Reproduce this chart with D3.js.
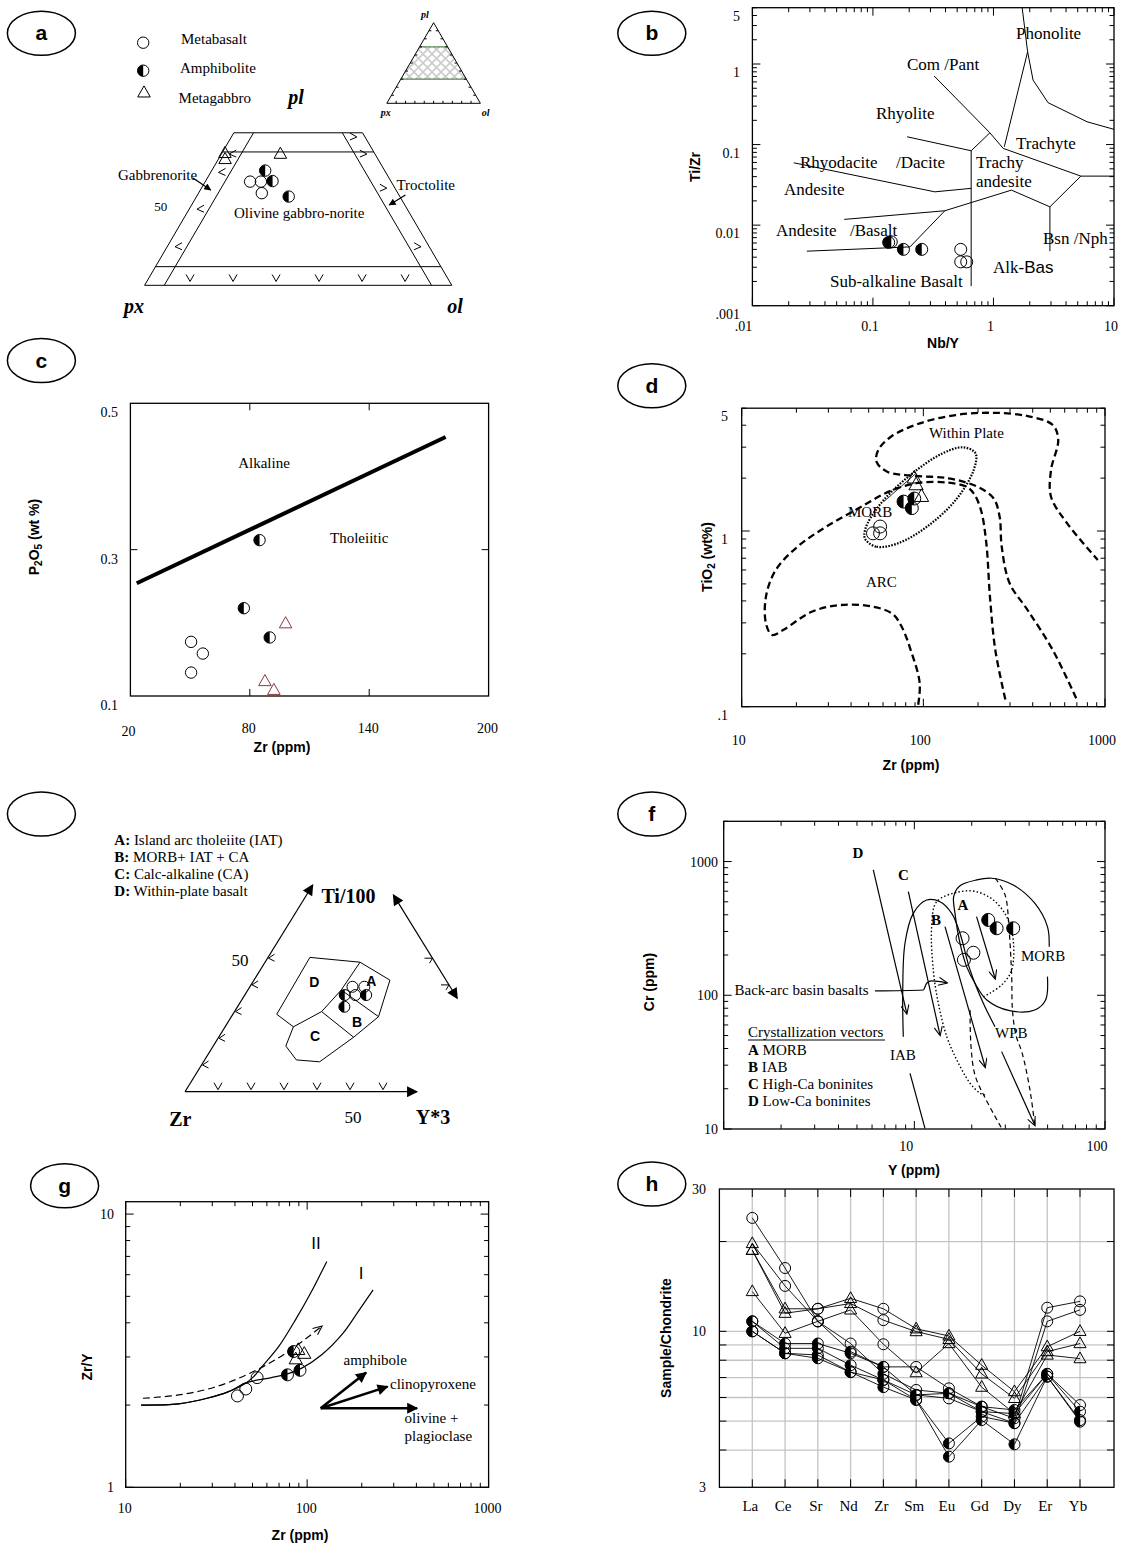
<!DOCTYPE html>
<html>
<head>
<meta charset="utf-8">
<script src="https://cdn.jsdelivr.net/npm/d3@7"></script>
<style>
  body { margin: 0; background: #fff; }
</style>
</head>
<body>
<svg id="canvas" width="1124" height="1544"></svg>
<script>
const SERIF = "'Liberation Serif','Times New Roman',serif";
const SANS = "'Liberation Sans',Arial,sans-serif";

// ---------------- data ----------------
// a: pl / px / ol in percent
const aMetabasalt = [[39.5, 45.9, 14.6], [39.5, 42.4, 18.1], [35.1, 44.3, 20.6]];
const aAmphibolite = [[43.7, 38.9, 17.4], [39.7, 38.5, 21.8], [33.8, 36.2, 30.0]];
const aMetagabbro = [[50.3, 48.7, 1.0], [48.0, 49.8, 2.2], [50.0, 30.8, 19.2]];

// b: Nb/Y vs Ti/Zr
const bAmphibolite = [[0.135, 0.0061], [0.142, 0.0062], [0.179, 0.0050], [0.254, 0.0050]];
const bMetabasalt = [[0.535, 0.0050], [0.535, 0.0035], [0.600, 0.0035]];
const bBoundaries = [
  [[1.73, 5], [1.92, 1.42], [1.23, 0.0939]],
  [[1.92, 1.42], [2.13, 0.632], [2.84, 0.331], [5.97, 0.192], [10, 0.1545]],
  [[0.322, 0.71], [0.934, 0.14], [1.205, 0.0897], [5.31, 0.0406], [10, 0.0406]],
  [[0.192, 0.125], [0.653, 0.0838], [0.934, 0.14]],
  [[0.653, 0.0838], [0.653, 0.00175]],
  [[0.02205, 0.0594], [0.326, 0.0259], [0.653, 0.0286]],
  [[0.0578, 0.01178], [0.395, 0.01508], [1.41, 0.0272], [2.94, 0.01687], [5.31, 0.0406]],
  [[2.94, 0.01687], [2.94, 0.00475]],
  [[0.395, 0.01508], [0.203, 0.00537], [0.0283, 0.00475]]
];
const bXTicks = [[0.01, ".01"], [0.1, "0.1"], [1, "1"], [10, "10"]];
const bYTicks = [[5, "5"], [1, "1"], [0.1, "0.1"], [0.01, "0.01"], [0.001, ".001"]];

// c: Zr vs P2O5
const cAmphibolite = [[84.9, 0.313], [77.0, 0.220], [90.0, 0.180]];
const cMetabasalt = [[50.5, 0.174], [56.4, 0.158], [50.5, 0.132]];
const cMetagabbro = [[98.0, 0.199], [87.6, 0.120], [92.1, 0.108]];
const cDivide = [[23.2, 0.254], [178.4, 0.454]];
const cXTicks = [20, 80, 140, 200];
const cYTicks = [0.5, 0.3, 0.1];

// d: Zr vs TiO2
const dAmphibolite = [[77.8, 1.47], [89.1, 1.53], [86.4, 1.35]];
const dMetabasalt = [[52.8, 0.97], [57.8, 1.06], [57.8, 0.97]];
const dMetagabbro = [[89.1, 2.0], [91.2, 1.83], [97.7, 1.57]];
const dWithinPlate = [[694, 0.1116], [516, 0.21], [375, 0.355], [298.5, 0.504], [270, 0.814], [263, 1.206], [243.4, 1.535], [198.2, 1.787], [137.6, 1.995], [87.2, 2.064], [63.3, 2.175], [55.2, 2.48], [56.5, 2.89], [66.3, 3.44], [95.5, 4.10], [150.7, 4.57], [237.8, 4.71], [375, 4.51], [516, 4.01], [552.7, 3.30], [504.5, 2.225], [504.5, 1.567], [619, 1.106], [912.5, 0.684]];
const dArc = [[282.7, 0.110], [249, 0.21], [232.6, 0.423], [222.2, 0.851], [207.5, 1.317], [189.3, 1.639], [172.8, 1.787], [137.6, 1.883], [95.5, 1.883], [66.3, 1.696], [44, 1.346], [29.2, 1.058], [20.3, 0.814], [15.4, 0.6], [13.6, 0.423], [13.6, 0.298], [14.7, 0.256], [16.9, 0.273], [24.3, 0.347], [35, 0.379], [52.8, 0.371], [67.8, 0.337], [76, 0.285], [85.2, 0.21], [95.5, 0.136], [93.3, 0.1]];
const dMorb = [[48.2, 0.889], [55.2, 0.814], [72.6, 0.851], [104.6, 1.058], [150.7, 1.501], [189.3, 2.225], [193.7, 2.768], [165.1, 2.995], [125.6, 2.744], [87.2, 2.13], [60.5, 1.501], [49.3, 1.106], [47.3, 0.949]];
const dTie = [[60.5, 1.468], [91.2, 2.13]];
const dXTicks = [[10, "10"], [100, "100"], [1000, "1000"]];
const dYTicks = [[5, "5"], [1, "1"], [0.1, ".1"]];

// e: Ti/100 - Zr - Y*3 (fractions of Ti and Y*3; Zr is the rest)
const eMetabasalt = [[0.393, 0.311], [0.393, 0.347], [0.362, 0.335]];
const eAmphibolite = [[0.362, 0.303], [0.362, 0.368], [0.318, 0.324]];
const eOutline = [[0.503, 0.127], [0.485, 0.288], [0.418, 0.412], [0.281, 0.446], [0.204, 0.409], [0.112, 0.352], [0.119, 0.278], [0.171, 0.220], [0.243, 0.207], [0.290, 0.133]];
const eInner = [
  [[0.485, 0.288], [0.381, 0.283], [0.300, 0.264]],
  [[0.243, 0.207], [0.300, 0.264], [0.204, 0.409]],
  [[0.381, 0.283], [0.281, 0.446]]
];
const eLegend = [["A:", " Island arc tholeiite (IAT)"], ["B:", " MORB+ IAT + CA"], ["C:", " Calc-alkaline (CA)"], ["D:", " Within-plate basalt"]];

// f: Y vs Cr
const fAmphibolite = [[24.4, 366], [27.0, 317], [33.0, 317]];
const fMetabasalt = [[17.9, 267], [20.4, 208], [18.2, 184]];
const fIabLow = [[11.37, 10.1], [9.49, 26.1]];
const fIabUp = [[8.75, 49], [8.69, 103.5], [8.93, 245], [9.87, 410], [11.6, 516], [13.63, 501], [15.7, 410], [17.35, 291], [19.6, 154.6], [23.0, 87.2], [26.5, 58.2]];
const fMorb = [[49.9, 137.8], [48.8, 92.2], [42.8, 77.6], [31.6, 76.7], [24.0, 92.2], [20.8, 123], [18.8, 163.7], [17.35, 245], [16.34, 410], [16.08, 546], [17.29, 657], [21.23, 729], [25.45, 750], [33.0, 668], [42.8, 488], [49.9, 326], [50.97, 231]];
const fBab = [[23.5, 17.96], [22.1, 18.5], [19.6, 22.0], [16.7, 32.8], [14.8, 49.0], [13.36, 87.2], [12.57, 154.6], [12.33, 326], [13.1, 501], [17.35, 595], [21.2, 595], [25.95, 516], [30.5, 387], [33.0, 259], [32.4, 154.6], [29.3, 123], [24.9, 103.5], [23.0, 97.6]];
const fDash1 = [[26.6, 750], [29.9, 563], [31.4, 308], [32.4, 137.8], [32.7, 77.6], [34.1, 50.5], [36.8, 36.8], [40.4, 19.6], [42.8, 10.7]];
const fDash2 = [[19.6, 77.6], [19.8, 42.5], [20.8, 25.3], [23.5, 17.1], [28.5, 10.3]];
const fVectors = [
  [[6.09, 865], [9.12, 73.4]],
  [[9.30, 595.5], [13.63, 50.5]],
  [[14.48, 326], [23.5, 29.2]],
  [[21.2, 387], [26.5, 134]],
  [[28.7, 37.9], [42.8, 10.7]]
];
const fBackArc = [[6.22, 107.7], [11.14, 109.5], [11.6, 123], [12.33, 128], [14.78, 124]];
const fXTicks = [[10, "10"], [100, "100"]];
const fYTicks = [[1000, "1000"], [100, "100"], [10, "10"]];
const fLegend = [["A", " MORB"], ["B", " IAB"], ["C", " High-Ca boninites"], ["D", " Low-Ca boninites"]];

// g: Zr vs Zr/Y
const gMetabasalt = [[41.3, 2.16], [45.9, 2.29], [53.0, 2.52]];
const gAmphibolite = [[77.9, 2.58], [91.3, 2.68], [84.2, 3.14]];
const gMetagabbro = [[89.3, 3.18], [96.4, 3.08], [86.5, 2.94]];
const gCurveI = [[12.16, 2.0], [19.56, 2.02], [28.09, 2.118], [36.9, 2.24], [46.3, 2.416], [63.5, 2.52], [77.9, 2.60], [93.4, 2.73], [119.8, 3.05], [157.4, 3.66], [188.6, 4.34], [231, 5.28]];
const gCurveII = [[12.16, 2.0], [19.56, 2.02], [28.09, 2.118], [36.9, 2.24], [46.3, 2.416], [50.7, 2.54], [55.5, 2.73], [69.6, 3.27], [87.3, 4.16], [104.6, 5.14], [128.3, 6.71]];
const gTrend = [[12.44, 2.118], [19.56, 2.178], [30.8, 2.324], [48.4, 2.616], [76.2, 3.095], [119.8, 3.876]];
const gVectors = [[[118.8, 1.947], [211.3, 2.63]], [[118.8, 1.947], [277.4, 2.336]], [[118.8, 1.947], [403.6, 1.947]]];
const gXTicks = [[10, "10"], [100, "100"], [1000, "1000"]];
const gYTicks = [[10, "10"], [1, "1"]];

// h: chondrite normalised REE
const hElements = ["La", "Ce", "Sr", "Nd", "Zr", "Sm", "Eu", "Gd", "Dy", "Er", "Yb"];
const hValues = [
  [24.0, 16.3, 10.8, 8.55, 7.6, 7.6, 6.44, 5.59, 5.11, 12.0, 12.6],
  [19.7, 14.2, 10.8, 9.1, 7.2, 6.36, 6.2, 5.38, 4.92, 10.8, 11.8],
  [18.7, 11.9, 11.9, 12.9, 11.9, 10.2, 9.65, 7.7, 6.28, 8.88, 10.0],
  [18.7, 11.5, 11.9, 12.4, 10.9, 9.98, 9.4, 7.2, 5.96, 8.55, 9.1],
  [13.6, 9.85, 10.8, 11.8, 9.05, 7.27, 9.1, 6.5, 5.3, 8.33, 8.1],
  [10.8, 9.1, 9.1, 8.44, 7.6, 6.12, 6.2, 5.59, 5.45, 7.2, 5.66],
  [10.8, 8.77, 8.77, 7.7, 6.87, 6.12, 5.96, 5.38, 5.3, 7.2, 5.38],
  [10.0, 8.44, 8.33, 7.3, 6.87, 5.89, 4.21, 5.18, 4.92, 7.05, 5.04],
  [10.0, 8.44, 8.12, 7.3, 6.5, 5.89, 3.80, 5.04, 4.18, 7.05, 4.98]
];
const hSymbols = ["cccacccaccc", "tcccaccaccc", "ttctctttttt", "ttctctttttt", "ttctctttttt", "aaaaaaaaaac", "aaaaaacaaaa", "aaaaaaaaaaa", "aaaaaaaaaaa"];
const hGrid = [4, 5, 6, 7, 8, 9, 10, 20];
const hYTicks = [[30, "30"], [10, "10"], [3, "3"]];

// ---------------- helpers ----------------
const svg = d3.select("#canvas");
svg.append("rect").attr("width", 1124).attr("height", 1544).attr("fill", "#fff");
const defs = svg.append("defs");

function arrowDef(id, w, h, filled) {
  defs.append("marker").attr("id", id).attr("viewBox", "0 0 10 10")
    .attr("refX", 9).attr("refY", 5).attr("markerUnits", "userSpaceOnUse")
    .attr("markerWidth", w).attr("markerHeight", h).attr("orient", "auto-start-reverse")
    .append("path").attr("d", filled ? "M0,0L10,5L0,10Z" : "M0,0.5L10,5L0,9.5")
    .attr("fill", filled ? "#000" : "none").attr("stroke", "#000").attr("stroke-width", filled ? 0 : 1.2);
}
arrowDef("arrowS", 9, 7, true);
arrowDef("arrowL", 15, 11, true);
arrowDef("arrowO", 11, 9, false);

const hatch = defs.append("pattern").attr("id", "hatch").attr("patternUnits", "userSpaceOnUse").attr("width", 9).attr("height", 9);
hatch.append("path").attr("d", "M0,0L9,9M9,0L0,9").attr("stroke", "#cccccc").attr("stroke-width", 1.6);

function txt(g, x, y, s, o = {}) {
  return g.append("text").attr("x", x).attr("y", y)
    .attr("font-size", o.size || 15)
    .attr("font-family", o.sans ? SANS : SERIF)
    .attr("font-weight", o.bold ? "bold" : null)
    .attr("font-style", o.italic ? "italic" : null)
    .attr("text-anchor", o.anchor || "start")
    .text(s);
}
function vtxt(g, x, y, s) {
  return g.append("text").attr("transform", `translate(${x},${y}) rotate(-90)`)
    .attr("text-anchor", "middle").attr("dy", "0.35em")
    .attr("font-family", SANS).attr("font-weight", "bold").attr("font-size", 14).text(s);
}
function seg(g, x1, y1, x2, y2, w = 1) {
  return g.append("line").attr("x1", x1).attr("y1", y1).attr("x2", x2).attr("y2", y2)
    .attr("stroke", "#000").attr("stroke-width", w);
}
function sym(g, type, x, y, r, color = "#000") {
  if (type === "t") {
    g.append("path").attr("d", `M${x},${y - r * 1.2}L${x + r * 1.1},${y + r * 0.75}L${x - r * 1.1},${y + r * 0.75}Z`)
      .attr("fill", "none").attr("stroke", color).attr("stroke-width", 1);
    return;
  }
  g.append("circle").attr("cx", x).attr("cy", y).attr("r", r)
    .attr("fill", "none").attr("stroke", color).attr("stroke-width", 1);
  if (type === "a") {
    g.append("path").attr("d", `M${x},${y - r}A${r},${r} 0 0 0 ${x},${y + r}Z`).attr("fill", "#000");
  }
}
function badge(cx, cy, letter) {
  svg.append("ellipse").attr("cx", cx).attr("cy", cy).attr("rx", 34).attr("ry", 22)
    .attr("fill", "none").attr("stroke", "#000").attr("stroke-width", 1.5);
  if (letter) txt(svg, cx, cy + 7, letter, { sans: true, bold: true, size: 21, anchor: "middle" });
}
function logTicks(lo, hi) {
  const out = [];
  for (let d = Math.floor(Math.log10(lo)); d <= Math.ceil(Math.log10(hi)); d++) {
    for (let k = 1; k < 10; k++) {
      const v = k * Math.pow(10, d);
      if (v >= lo * 0.999 && v <= hi * 1.001) out.push({ v, major: k === 1 });
    }
  }
  return out;
}
function frame(g, x, y, xt, yt) {
  const [xa, xb] = x.range(), [ya, yb] = y.range();
  g.append("rect").attr("x", xa).attr("y", yb).attr("width", xb - xa).attr("height", ya - yb)
    .attr("fill", "none").attr("stroke", "#000").attr("stroke-width", 1.3);
  xt.forEach(t => {
    const p = x(t.v), L = t.major ? 8 : 4.5;
    seg(g, p, ya, p, ya - L); seg(g, p, yb, p, yb + L);
  });
  yt.forEach(t => {
    const p = y(t.v), L = t.major ? 8 : 4.5;
    seg(g, xa, p, xa + L, p); seg(g, xb, p, xb - L, p);
  });
}
function path(g, gen, pts, w, dash) {
  return g.append("path").attr("d", gen(pts)).attr("fill", "none").attr("stroke", "#000")
    .attr("stroke-width", w).attr("stroke-dasharray", dash || null);
}

// ---------------- panel a : pl-px-ol ----------------
badge(41.4, 33.3, "a");
const aG = svg.append("g");
const aX = d3.scaleLinear([0, 1], [144.6, 451.8]);
const aY = d3.scaleLinear([0, 1], [285.3, 22.8]);
const aP = (pl, ol) => [aX(ol + pl / 2), aY(pl)];
const aFrame = [
  [[0, 0], [0.581, 0]], [[0, 1], [0.581, 0.419]],
  [[0, 0.064], [0.581, 0.064]], [[0, 0.934], [0.581, 0.353]],
  [[0, 0], [0, 1]], [[0.071, 0], [0.071, 0.929]],
  [[0.508, 0], [0.508, 0.492]], [[0.581, 0], [0.581, 0.419]]
];
aFrame.forEach(s => { const p = aP(...s[0]), q = aP(...s[1]); seg(aG, p[0], p[1], q[0], q[1], 1); });
[0.135, 0.275, 0.415, 0.555, 0.695, 0.835].forEach(ol => {
  const [x, y] = aP(0.026, ol);
  aG.append("path").attr("d", `M${x - 4},${y - 4}L${x},${y + 3}L${x + 4},${y - 4}`).attr("fill", "none").attr("stroke", "#000");
});
[0.50, 0.43, 0.29, 0.147].forEach(pl => {
  const [x, y] = aP(pl, 0.032);
  aG.append("path").attr("d", `M${x + 5},${y - 4}L${x - 2},${y}L${x + 5},${y + 3}`).attr("fill", "none").attr("stroke", "#000");
});
[0.565, 0.50, 0.37, 0.147].forEach(pl => {
  const [x, y] = aP(pl, 0.967 - pl);
  aG.append("path").attr("d", `M${x - 5},${y - 4}L${x + 2},${y}L${x - 5},${y + 3}`).attr("fill", "none").attr("stroke", "#000");
});
// inset triangle
const iX = d3.scaleLinear([0, 1], [386.8, 480.4]);
const iY = d3.scaleLinear([0, 1], [103.3, 22.7]);
const iP = (pl, ol) => [iX(ol + pl / 2), iY(pl)];
const band = [iP(0.3, 0), iP(0.7, 0), iP(0.7, 0.3), iP(0.3, 0.7)];
aG.append("path").attr("d", "M" + band.join("L") + "Z").attr("fill", "url(#hatch)");
aG.append("path").attr("d", "M" + [iP(0, 0), iP(1, 0), iP(0, 1)].join("L") + "Z").attr("fill", "none").attr("stroke", "#000");
[[0.3, 0.7], [0.7, 0.3]].forEach(([pl, w]) => {
  const p = iP(pl, 0), q = iP(pl, w);
  seg(aG, p[0], p[1], q[0], q[1], 1).attr("stroke", "#2e6b2e");
});
d3.range(1, 10).forEach(k => {
  const t = k / 10;
  let p = iP(0, t); seg(aG, p[0], p[1], p[0], p[1] - 2.5, 1);
  p = iP(t, 0); seg(aG, p[0], p[1], p[0] + 2.5, p[1], 1);
  p = iP(t, 1 - t); seg(aG, p[0], p[1], p[0] - 2.5, p[1], 1);
});
txt(aG, 425, 18, "pl", { size: 10, bold: true, italic: true, anchor: "middle" });
txt(aG, 385.7, 116, "px", { size: 10, bold: true, italic: true, anchor: "middle" });
txt(aG, 485.7, 116, "ol", { size: 10, bold: true, italic: true, anchor: "middle" });
// legend
sym(aG, "c", 143.2, 42.7, 5.7); txt(aG, 181, 44, "Metabasalt");
sym(aG, "a", 143.2, 70.7, 5.7); txt(aG, 180, 73, "Amphibolite");
sym(aG, "t", 144, 92.7, 5.7); txt(aG, 178.6, 103, "Metagabbro");
txt(aG, 296, 104, "pl", { size: 20, bold: true, italic: true, anchor: "middle" });
txt(aG, 134, 313, "px", { size: 20, bold: true, italic: true, anchor: "middle" });
txt(aG, 455, 313, "ol", { size: 20, bold: true, italic: true, anchor: "middle" });
txt(aG, 160.7, 211, "50", { size: 13, anchor: "middle" });
txt(aG, 118, 180, "Gabbrenorite");
seg(aG, 193, 178, 210.7, 190, 1.3).attr("marker-end", "url(#arrowS)");
txt(aG, 396.4, 190, "Troctolite");
seg(aG, 405.4, 195, 389.3, 205, 1.3).attr("marker-end", "url(#arrowS)");
txt(aG, 234, 218, "Olivine gabbro-norite");
aMetabasalt.forEach(d => { const [x, y] = aP(d[0] / 100, d[2] / 100); sym(aG, "c", x, y, 5.7); });
aAmphibolite.forEach(d => { const [x, y] = aP(d[0] / 100, d[2] / 100); sym(aG, "a", x, y, 5.7); });
aMetagabbro.forEach(d => { const [x, y] = aP(d[0] / 100, d[2] / 100); sym(aG, "t", x, y, 5.7); });

// ---------------- panel b : Nb/Y vs Ti/Zr ----------------
badge(651.8, 33.3, "b");
const bG = svg.append("g");
const xB = d3.scaleLog([0.01, 10], [752.4, 1114]);
const yB = d3.scaleLog([0.001, 5], [305.7, 7.7]);
frame(bG, xB, yB, logTicks(0.01, 10), logTicks(0.001, 5));
const lineB = d3.line().x(d => xB(d[0])).y(d => yB(d[1]));
bBoundaries.forEach(l => path(bG, lineB, l, 1));
bXTicks.forEach(([v, s]) => txt(bG, xB(v) - (v === 0.01 ? 9 : 3), 331, s, { size: 14, anchor: "middle" }));
bYTicks.forEach(([v, s]) => txt(bG, 740, yB(v) + 13, s, { size: 14, anchor: "end" }));
vtxt(bG, 695, 167, "Ti/Zr");
txt(bG, 943, 348, "Nb/Y", { sans: true, bold: true, size: 14, anchor: "middle" });
[["Phonolite", 1016, 39], ["Com /Pant", 907, 70], ["Rhyolite", 876, 119], ["Trachyte", 1016, 149],
 ["Rhyodacite", 800, 168], ["/Dacite", 896, 168], ["Trachy", 976, 168], ["andesite", 976, 187],
 ["Andesite", 784, 195], ["Andesite", 776, 236], ["/Basalt", 850, 236], ["Bsn /Nph", 1043, 244],
 ["Sub-alkaline Basalt", 830, 287]].forEach(([s, x, y]) => txt(bG, x, y, s, { size: 17 }));
const alk = txt(bG, 993, 273, "", { size: 17 });
alk.append("tspan").text("Alk-");
alk.append("tspan").attr("font-family", SANS).text("Bas");
bAmphibolite.forEach(d => sym(bG, "a", xB(d[0]), yB(d[1]), 6));
bMetabasalt.forEach(d => sym(bG, "c", xB(d[0]), yB(d[1]), 6));

// ---------------- panel c : Zr vs P2O5 ----------------
badge(41.4, 360.5, "c");
const cG = svg.append("g");
const xC = d3.scaleLinear([20, 200], [130.4, 488.6]);
const yC = d3.scaleLinear([0.1, 0.5], [696, 403.3]);
cG.append("rect").attr("x", 130.4).attr("y", 403.3).attr("width", 358.2).attr("height", 292.7)
  .attr("fill", "none").attr("stroke", "#000").attr("stroke-width", 1.3);
[80, 140].forEach(v => { seg(cG, xC(v), 696, xC(v), 689); seg(cG, xC(v), 403.3, xC(v), 410.3); });
seg(cG, 130.4, yC(0.3), 137.4, yC(0.3)); seg(cG, 488.6, yC(0.3), 481.6, yC(0.3));
cXTicks.forEach(v => txt(cG, xC(v) - (v === 20 ? 2 : 1), v === 20 ? 736 : 733, String(v), { size: 14, anchor: "middle" }));
cYTicks.forEach(v => txt(cG, 118, yC(v) + 14, String(v), { size: 14, anchor: "end" }));
const cT = cG.append("text").attr("transform", "translate(34,537) rotate(-90)").attr("text-anchor", "middle")
  .attr("dy", "0.35em").attr("font-family", SANS).attr("font-weight", "bold").attr("font-size", 14);
cT.append("tspan").text("P");
cT.append("tspan").attr("font-size", 10).attr("dy", 3).text("2");
cT.append("tspan").attr("dy", -3).text("O");
cT.append("tspan").attr("font-size", 10).attr("dy", 3).text("5");
cT.append("tspan").attr("dy", -3).text(" (wt %)");
txt(cG, 282, 752, "Zr (ppm)", { sans: true, bold: true, size: 14, anchor: "middle" });
const lineC = d3.line().x(d => xC(d[0])).y(d => yC(d[1]));
path(cG, lineC, cDivide, 4);
txt(cG, 264, 468, "Alkaline", { anchor: "middle" });
txt(cG, 330, 543, "Tholeiitic");
cAmphibolite.forEach(d => sym(cG, "a", xC(d[0]), yC(d[1]), 5.7));
cMetabasalt.forEach(d => sym(cG, "c", xC(d[0]), yC(d[1]), 5.7));
cMetagabbro.forEach(d => sym(cG, "t", xC(d[0]), yC(d[1]), 5.7, "#8b3a3a"));

// ---------------- panel d : Zr vs TiO2 ----------------
badge(651.8, 385.8, "d");
const dG = svg.append("g");
const xD = d3.scaleLog([10, 1000], [741.7, 1105]);
const yD = d3.scaleLog([0.1, 5], [706.7, 408.2]);
frame(dG, xD, yD, logTicks(10, 1000), logTicks(0.1, 5));
const lineD = d3.line().x(d => xD(d[0])).y(d => yD(d[1])).curve(d3.curveCatmullRom.alpha(0.5));
path(dG, lineD, dWithinPlate, 2.3, "7,4");
path(dG, lineD, dArc, 2.3, "7,4");
path(dG, lineD.curve(d3.curveCatmullRomClosed.alpha(0.5)), dMorb, 2.2, "1.6,1.4");
path(dG, d3.line().x(d => xD(d[0])).y(d => yD(d[1])), dTie, 0.8);
dXTicks.forEach(([v, s]) => txt(dG, xD(v) - 3, 745, s, { size: 14, anchor: "middle" }));
dYTicks.forEach(([v, s]) => txt(dG, 728, yD(v) + 13, s, { size: 14, anchor: "end" }));
const dT = dG.append("text").attr("transform", "translate(707.5,557) rotate(-90)").attr("text-anchor", "middle")
  .attr("dy", "0.35em").attr("font-family", SANS).attr("font-weight", "bold").attr("font-size", 14);
dT.append("tspan").text("TiO");
dT.append("tspan").attr("font-size", 10).attr("dy", 3).text("2");
dT.append("tspan").attr("dy", -3).text(" (wt%)");
txt(dG, 911, 770, "Zr (ppm)", { sans: true, bold: true, size: 14, anchor: "middle" });
txt(dG, 929, 438, "Within Plate");
txt(dG, 848, 517, "MORB");
txt(dG, 866, 587, "ARC");
dMetagabbro.forEach(d => sym(dG, "t", xD(d[0]), yD(d[1]), 6.5));
dAmphibolite.forEach(d => sym(dG, "a", xD(d[0]), yD(d[1]), 6.5));
dMetabasalt.forEach(d => sym(dG, "c", xD(d[0]), yD(d[1]), 6.5));

// ---------------- panel e : Ti-Zr-Y ----------------
badge(41.4, 814, "");
const eG = svg.append("g");
const eX = d3.scaleLinear([0, 1], [185, 515]);
const eY = d3.scaleLinear([0, 1], [1091.7, 824.7]);
const eP = (ti, yv) => [eX(yv + ti / 2), eY(ti)];
eLegend.forEach((d, i) => {
  const t = txt(eG, 114.3, [845, 862, 879, 896][i], "");
  t.append("tspan").attr("font-weight", "bold").text(d[0]);
  t.append("tspan").text(d[1]);
});
let p0 = eP(0, 0), p1 = eP(0.774, 0);
seg(eG, p0[0], p0[1], p1[0], p1[1], 1.2).attr("marker-end", "url(#arrowL)");
p1 = eP(0, 0.703);
seg(eG, p0[0], p0[1], p1[0], p1[1], 1.2).attr("marker-end", "url(#arrowL)");
p0 = eP(0.737, 0.263); p1 = eP(0.35, 0.65);
seg(eG, p0[0], p0[1], p1[0], p1[1], 1.2).attr("marker-end", "url(#arrowL)").attr("marker-start", "url(#arrowL)");
[0.1, 0.2, 0.3, 0.4, 0.5].forEach(t => {
  const [x, y] = eP(t, 0);
  eG.append("path").attr("d", `M${x + 7},${y - 4}L${x + 1},${y}L${x + 7},${y + 3}`).attr("fill", "none").attr("stroke", "#000");
});
[0.1, 0.2, 0.3, 0.4, 0.5, 0.6].forEach(t => {
  const [x, y] = eP(0, t);
  eG.append("path").attr("d", `M${x - 4},${y - 9}L${x},${y - 2}L${x + 4},${y - 9}`).attr("fill", "none").attr("stroke", "#000");
});
[0.5, 0.4].forEach(t => {
  const [x, y] = eP(t, 1 - t);
  eG.append("path").attr("d", `M${x - 8},${y}L${x},${y}L${x - 3},${y + 5}`).attr("fill", "none").attr("stroke", "#000");
});
const lineE = d3.line().x(d => eP(d[0], d[1])[0]).y(d => eP(d[0], d[1])[1]);
eG.append("path").attr("d", lineE(eOutline) + "Z").attr("fill", "none").attr("stroke", "#000").attr("stroke-width", 1);
eInner.forEach(l => path(eG, lineE, l, 1));
[["D", 314.3, 987], ["A", 371.4, 986], ["B", 357.1, 1027], ["C", 315, 1041]].forEach(([s, x, y]) =>
  txt(eG, x, y, s, { sans: true, bold: true, size: 14, anchor: "middle" }));
txt(eG, 321.4, 903, "Ti/100", { bold: true, size: 20 });
txt(eG, 180.4, 1126, "Zr", { bold: true, size: 20, anchor: "middle" });
txt(eG, 433, 1124, "Y*3", { bold: true, size: 20, anchor: "middle" });
txt(eG, 353, 1123, "50", { size: 17, anchor: "middle" });
txt(eG, 240, 966, "50", { size: 17, anchor: "middle" });
eMetabasalt.forEach(d => { const [x, y] = eP(d[0], d[1]); sym(eG, "c", x, y, 5.5); });
eAmphibolite.forEach(d => { const [x, y] = eP(d[0], d[1]); sym(eG, "a", x, y, 5.5); });

// ---------------- panel f : Y vs Cr ----------------
badge(651.8, 814, "f");
const fG = svg.append("g");
const xF = d3.scaleLog([1, 100], [723.7, 1105]);
const yF = d3.scaleLog([10, 2000], [1129, 821.3]);
frame(fG, xF, yF, logTicks(1, 100), logTicks(10, 2000));
const lineF = d3.line().x(d => xF(d[0])).y(d => yF(d[1])).curve(d3.curveCatmullRom.alpha(0.5));
const straightF = d3.line().x(d => xF(d[0])).y(d => yF(d[1]));
path(fG, straightF, fIabLow, 1.2);
path(fG, lineF, fIabUp, 1.2);
path(fG, lineF, fMorb, 1.2);
path(fG, lineF, fBab, 1.4, "1.5,2.2");
path(fG, lineF, fDash1, 1.2, "5,3.5");
path(fG, lineF, fDash2, 1.2, "5,3.5");
fVectors.forEach(v => path(fG, straightF, v, 1.2).attr("marker-end", "url(#arrowO)"));
path(fG, lineF.curve(d3.curveMonotoneX), fBackArc, 1.2).attr("marker-end", "url(#arrowO)");
fXTicks.forEach(([v, s]) => txt(fG, xF(v) - 8, 1151, s, { size: 14, anchor: "middle" }));
fYTicks.forEach(([v, s]) => txt(fG, 718, yF(v) + 5, s, { size: 14, anchor: "end" }));
vtxt(fG, 649, 982, "Cr (ppm)");
txt(fG, 914, 1175, "Y (ppm)", { sans: true, bold: true, size: 14, anchor: "middle" });
[["D", 858, 858], ["C", 903.5, 880], ["A", 963, 910], ["B", 936, 925]].forEach(([s, x, y]) =>
  txt(fG, x, y, s, { bold: true, anchor: "middle" }));
txt(fG, 1021, 961, "MORB");
txt(fG, 995, 1038, "WPB");
txt(fG, 890, 1060, "IAB");
txt(fG, 734.5, 995, "Back-arc basin basalts");
txt(fG, 748, 1037, "Crystallization vectors");
seg(fG, 748, 1040, 885, 1040, 1);
fLegend.forEach((d, i) => {
  const t = txt(fG, 748, 1055 + i * 17, "");
  t.append("tspan").attr("font-weight", "bold").text(d[0]);
  t.append("tspan").text(d[1]);
});
fMetabasalt.forEach(d => sym(fG, "c", xF(d[0]), yF(d[1]), 6.5));
fAmphibolite.forEach(d => sym(fG, "a", xF(d[0]), yF(d[1]), 6.5));

// ---------------- panel g : Zr vs Zr/Y ----------------
badge(64.6, 1185.8, "g");
const gG = svg.append("g");
const xG = d3.scaleLog([10, 1000], [125.7, 488.6]);
const yG = d3.scaleLog([1, 11.1], [1487.3, 1201.7]);
frame(gG, xG, yG, logTicks(10, 1000), logTicks(1, 11.1));
const lineG = d3.line().x(d => xG(d[0])).y(d => yG(d[1])).curve(d3.curveCatmullRom.alpha(0.5));
path(gG, lineG, gCurveI, 1.2);
path(gG, lineG, gCurveII, 1.2);
path(gG, lineG, gTrend, 1.2, "7,4").attr("marker-end", "url(#arrowO)");
const straightG = d3.line().x(d => xG(d[0])).y(d => yG(d[1]));
gVectors.forEach(v => path(gG, straightG, v, 2.6).attr("marker-end", "url(#arrowL)"));
gXTicks.forEach(([v, s]) => txt(gG, xG(v) - 1, 1513, s, { size: 14, anchor: "middle" }));
gYTicks.forEach(([v, s]) => txt(gG, 114, yG(v) + 5, s, { size: 14, anchor: "end" }));
vtxt(gG, 87.5, 1367, "Zr/Y");
txt(gG, 300, 1540, "Zr (ppm)", { sans: true, bold: true, size: 14, anchor: "middle" });
txt(gG, 316, 1249, "II", { sans: true, size: 17, anchor: "middle" });
txt(gG, 361, 1279, "I", { sans: true, size: 17, anchor: "middle" });
txt(gG, 343.6, 1365, "amphibole");
txt(gG, 390, 1389, "clinopyroxene");
txt(gG, 404.6, 1423, "olivine +");
txt(gG, 404.6, 1441, "plagioclase");
gMetabasalt.forEach(d => sym(gG, "c", xG(d[0]), yG(d[1]), 6));
gAmphibolite.forEach(d => sym(gG, "a", xG(d[0]), yG(d[1]), 6));
gMetagabbro.forEach(d => sym(gG, "t", xG(d[0]), yG(d[1]), 6));

// ---------------- panel h : spider diagram ----------------
badge(651.8, 1184, "h");
const hG = svg.append("g");
const xH = d3.scalePoint(hElements, [752.3, 1080]);
const yH = d3.scaleLog([3, 30], [1487.3, 1189]);
const hL = 719.4, hR = 1114, hT = 1189, hB = 1487.3;
hGrid.forEach(v => {
  hG.append("line").attr("x1", hL).attr("x2", hR).attr("y1", yH(v)).attr("y2", yH(v))
    .attr("stroke", "#c4c4c4").attr("stroke-width", 1.3);
  seg(hG, hL, yH(v), hL + 7, yH(v)); seg(hG, hR, yH(v), hR - 7, yH(v));
});
hElements.forEach(e => {
  hG.append("line").attr("x1", xH(e)).attr("x2", xH(e)).attr("y1", hT).attr("y2", hB)
    .attr("stroke", "#c4c4c4").attr("stroke-width", 1.3);
  seg(hG, xH(e), hT, xH(e), hT + 8); seg(hG, xH(e), hB, xH(e), hB - 8);
  txt(hG, xH(e) - 2, 1511, e, { anchor: "middle" });
});
hG.append("rect").attr("x", hL).attr("y", hT).attr("width", hR - hL).attr("height", hB - hT)
  .attr("fill", "none").attr("stroke", "#000").attr("stroke-width", 1.3);
hYTicks.forEach(([v, s]) => txt(hG, 706, yH(v) + 5, s, { size: 14, anchor: "end" }));
vtxt(hG, 666, 1338, "Sample/Chondrite");
const lineH = d3.line().x((d, i) => xH(hElements[i])).y(d => yH(d));
hValues.forEach(vals => path(hG, lineH, vals, 0.9));
hValues.forEach((vals, k) => vals.forEach((v, i) => sym(hG, hSymbols[k][i], xH(hElements[i]), yH(v), 5.5)));
</script>
</body>
</html>
